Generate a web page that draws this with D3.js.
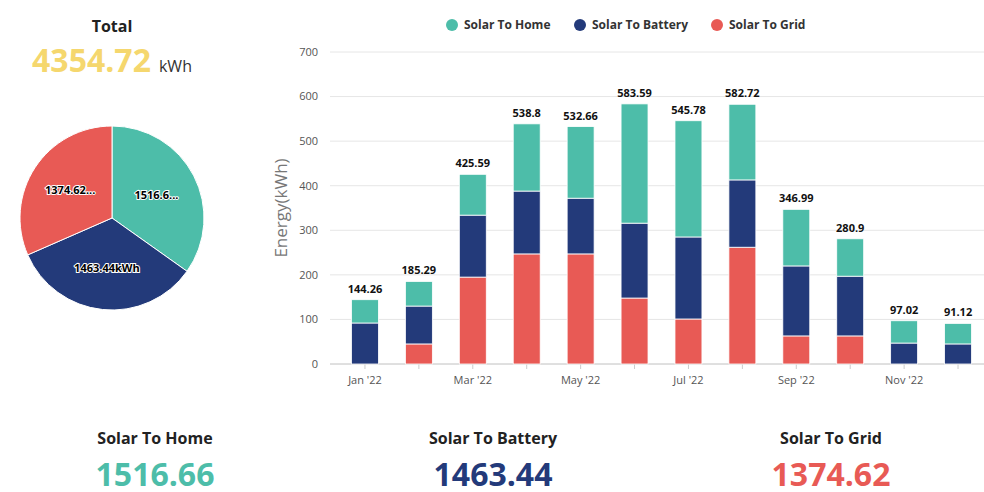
<!DOCTYPE html>
<html><head><meta charset="utf-8">
<script src="https://cdn.jsdelivr.net/npm/d3@7"></script>
<style>body{margin:0;font-family:"Open Sans",sans-serif;background:#fff}</style>
</head><body><div id="plot"></div>
<script>
var months = ["Jan '22","Feb '22","Mar '22","Apr '22","May '22","Jun '22","Jul '22","Aug '22","Sep '22","Oct '22","Nov '22","Dec '22"];
var solarToHome = [52.26, 55.29, 91.59, 150.8, 160.66, 267.59, 260.78, 169.72, 126.99, 83.9, 50.02, 46.12];
var solarToBattery = [92, 85, 139, 141, 125, 168, 184, 151, 157, 134, 47, 45];
var solarToGrid = [0, 45, 195, 247, 247, 148, 101, 262, 63, 63, 0, 0];
var totals = [144.26, 185.29, 425.59, 538.8, 532.66, 583.59, 545.78, 582.72, 346.99, 280.9, 97.02, 91.12];
var seriesNames = ["Solar To Home", "Solar To Battery", "Solar To Grid"];
var seriesTotals = [1516.66, 1463.44, 1374.62];
var pieLabels = ["1516.6...", "1463.44kWh", "1374.62..."];
var colors = ["#4dbda9", "#233a7a", "#e85a55"];
var yTicks = [0, 100, 200, 300, 400, 500, 600, 700];

const w = 984, h = 492;
const svg = d3.select("#plot").append("svg").attr("width", w).attr("height", h);

// total header
svg.append("text").attr("x", 112).attr("y", 32).attr("text-anchor", "middle")
  .attr("font-size", 16).attr("font-weight", "bold").attr("fill", "#222").text("Total");
const tot = svg.append("text").attr("x", 112).attr("y", 72).attr("text-anchor", "middle");
tot.append("tspan").attr("font-size", 32).attr("font-weight", "bold").attr("fill", "#f5d76e")
  .text(d3.sum(seriesTotals).toFixed(2));
tot.append("tspan").attr("font-size", 16).attr("fill", "#333").attr("dx", 8).text("kWh");

// pie
const pie = d3.pie().sort(null).value(d => d)(seriesTotals);
const arc = d3.arc().innerRadius(0).outerRadius(92);
const pg = svg.append("g").attr("transform", "translate(112,218)");
pg.selectAll("path").data(pie).enter().append("path")
  .attr("d", arc).attr("fill", (d, i) => colors[i]).attr("stroke", "#fff").attr("stroke-width", 1);
const labelArc = d3.arc().innerRadius(50).outerRadius(50);
pg.selectAll("text").data(pie).enter().append("text")
  .attr("transform", d => `translate(${labelArc.centroid(d)})`)
  .attr("text-anchor", "middle").attr("dy", "0.35em")
  .attr("font-size", 11).attr("font-weight", "bold").attr("fill", "#000")
  .attr("stroke", "#fff").attr("stroke-width", 2).attr("paint-order", "stroke")
  .text((d, i) => pieLabels[i]);

// bar chart
const x = d3.scaleBand().domain(months).range([338, 985]).paddingInner(0.5).paddingOuter(0.25);
const y = d3.scaleLinear().domain([0, 700]).range([364, 52]);

svg.append("g").selectAll("line").data(yTicks).enter().append("line")
  .attr("x1", 330).attr("x2", 984).attr("y1", d => y(d)).attr("y2", d => y(d))
  .attr("stroke", "#e6e6e6");
svg.append("g").selectAll("text").data(yTicks).enter().append("text")
  .attr("x", 318).attr("y", d => y(d)).attr("dy", "0.35em").attr("text-anchor", "end")
  .attr("font-size", 11).attr("fill", "#555").text(d => d);
svg.append("text").attr("transform", "translate(287,208) rotate(-90)").attr("text-anchor", "middle")
  .attr("font-size", 17).attr("fill", "#777").text("Energy(kWh)");

const xAxis = d3.axisBottom(x).tickSize(5).tickFormat((d, i) => i % 2 === 0 ? d : "");
const xg = svg.append("g").attr("transform", "translate(0,364)").call(xAxis);
xg.select(".domain").attr("stroke", "#ccc").attr("d", "M330,0H984");
xg.selectAll(".tick line").attr("stroke", "#ccc");
xg.selectAll("text").attr("font-size", 11).attr("fill", "#555").attr("font-family", "Open Sans").attr("dy", "1.1em");

const rows = months.map((m, i) => ({ m, home: solarToHome[i], battery: solarToBattery[i], grid: solarToGrid[i] }));
const stack = d3.stack().keys(["grid", "battery", "home"])(rows);
const colorOf = { grid: colors[2], battery: colors[1], home: colors[0] };
stack.forEach(s => {
  svg.append("g").selectAll("rect").data(s).enter().append("rect")
    .attr("x", d => x(d.data.m)).attr("width", x.bandwidth())
    .attr("y", d => y(d[1])).attr("height", d => y(d[0]) - y(d[1]))
    .attr("fill", colorOf[s.key]).attr("stroke", "#fff").attr("stroke-width", 0.8);
});
svg.append("g").selectAll("text").data(months).enter().append("text")
  .attr("x", d => x(d) + x.bandwidth() / 2).attr("y", (d, i) => y(totals[i]) - 7)
  .attr("text-anchor", "middle").attr("font-size", 11).attr("font-weight", "bold").attr("fill", "#111")
  .text((d, i) => totals[i]);

// legend
const legX = [452, 580, 717];
seriesNames.forEach((n, i) => {
  svg.append("circle").attr("cx", legX[i]).attr("cy", 25).attr("r", 6).attr("fill", colors[i]);
  svg.append("text").attr("x", legX[i] + 12).attr("y", 25).attr("dy", "0.35em")
    .attr("font-size", 12).attr("font-weight", "bold").attr("fill", "#333").text(n);
});

// bottom summaries
const sumX = [155, 493, 831];
seriesNames.forEach((n, i) => {
  svg.append("text").attr("x", sumX[i]).attr("y", 444).attr("text-anchor", "middle")
    .attr("font-size", 16).attr("font-weight", "bold").attr("fill", "#222").text(n);
  svg.append("text").attr("x", sumX[i]).attr("y", 486).attr("text-anchor", "middle")
    .attr("font-size", 32).attr("font-weight", "bold").attr("fill", colors[i]).text(seriesTotals[i].toFixed(2));
});
</script></body></html>
